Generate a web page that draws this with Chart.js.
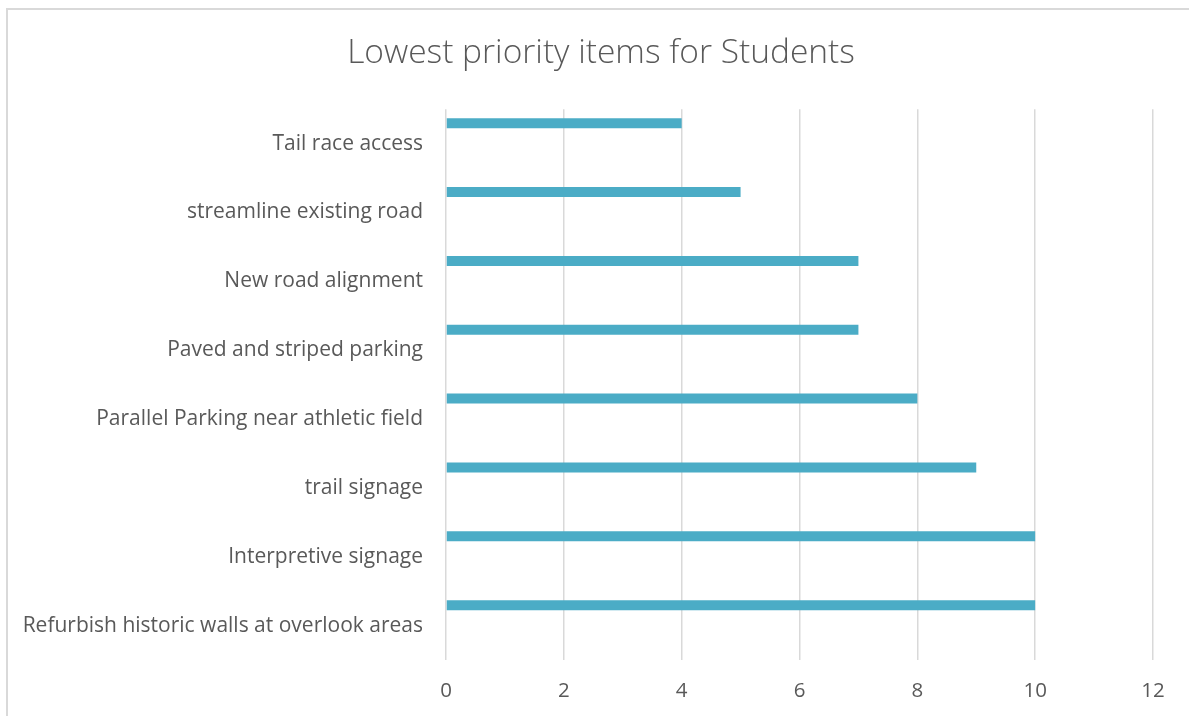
<!DOCTYPE html>
<html>
<head>
<meta charset="utf-8">
<script src="https://cdn.jsdelivr.net/npm/chart.js@4"></script>
<style>
  html, body { margin: 0; padding: 0; background: #fff; overflow: hidden; }
  #frame {
    position: absolute; left: 6px; top: 8px; width: 1300px; height: 800px;
    border-left: 2px solid #d9d9d9; border-top: 2px solid #d9d9d9;
  }
  #wrap { position: absolute; left: 0; top: 0; width: 1189px; height: 716px; }
</style>
</head>
<body>
<div id="frame"></div>
<div id="wrap"><canvas id="chartPrioridade"></canvas></div>
<script>
// Lowest priority items for Students — horizontal bars, Excel-style.
const categorias = [
  'Tail race access',
  'streamline existing road',
  'New road alignment',
  'Paved and striped parking',
  'Parallel Parking near athletic field',
  'trail signage',
  'Interpretive signage',
  'Refurbish historic walls at overlook areas',
];
const contagem = [4, 5, 7, 7, 8, 9, 10, 10];
const xTicks = [0, 2, 4, 6, 8, 10, 12];

const FONTE = "'Open Sans', Lato, sans-serif";
const CINZA = '#595959';

// Excel reserved room for series that were left empty, so the bar sits high in each band.
const vazio = categorias.map(() => null);

new Chart(document.getElementById('chartPrioridade'), {
  type: 'bar',
  data: {
    labels: categorias,
    datasets: [
      { label: 'Students', data: contagem, backgroundColor: '#4bacc6', borderWidth: 0 },
      { label: '', data: vazio },
      { label: '', data: vazio },
    ],
  },
  options: {
    indexAxis: 'y',
    responsive: true,
    maintainAspectRatio: false,
    animation: false,
    categoryPercentage: 0.89,
    barPercentage: 0.49,
    // left padding only shifts the title centre; right gap is reserved by the x scale
    layout: { padding: { left: 13, right: 0, top: 0, bottom: 0 } },
    plugins: {
      legend: { display: false },
      tooltip: { enabled: false },
      title: {
        display: true,
        text: 'Lowest priority items for Students',
        color: CINZA,
        font: { family: FONTE, size: 33.5, weight: '300', lineHeight: 1.2 },
        padding: { top: 33, bottom: 36 },
      },
    },
    scales: {
      x: {
        min: 0,
        max: 12,
        afterBuildTicks: (scale) => { scale.ticks = xTicks.map((v) => ({ value: v })); },
        afterFit: (scale) => { scale.height = 56; scale.paddingRight = 36; },
        grid: { color: '#d9d9d9', lineWidth: 1.5, drawTicks: false },
        border: { display: false },
        ticks: { color: CINZA, padding: 19, font: { family: FONTE, size: 20.5 } },
      },
      y: {
        afterFit: (scale) => { scale.width = 433; },
        grid: { display: false, drawTicks: false },
        border: { display: false },
        ticks: { color: CINZA, padding: 23, font: { family: FONTE, size: 21 } },
      },
    },
  },
});
</script>
</body>
</html>
